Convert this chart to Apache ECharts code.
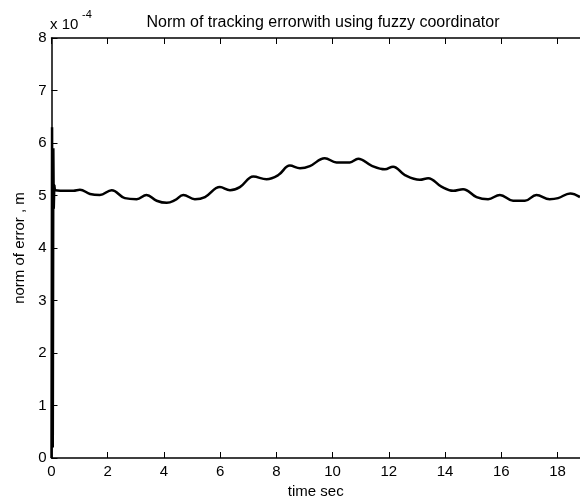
<!DOCTYPE html>
<html>
<head>
<meta charset="utf-8">
<script src="https://cdn.jsdelivr.net/npm/echarts@6/dist/echarts.min.js"></script>
<style>
  html, body { margin: 0; padding: 0; background: #fff; }
  #chart { width: 580px; height: 500px; }
</style>
</head>
<body>
<div id="chart"></div>
<script>
// values in units of 1e-4 m
var spikeTime = [0, 0.02, 0.045, 0.065, 0.08, 0.1, 0.12];
var spikeValue = [0, 6.3, 0.2, 5.9, 4.75, 5.2, 5.1];

var time = [0.12, 0.48, 0.78, 1.01, 1.37, 1.72, 2.14, 2.61, 3.03, 3.38, 3.74, 4.10, 4.39, 4.69, 5.10, 5.46,
  5.99, 6.35, 6.70, 7.18, 7.65, 8.07, 8.48, 8.84, 9.19, 9.72, 10.14, 10.61, 10.91, 11.38, 11.86, 12.15,
  12.57, 13.10, 13.40, 13.87, 14.29, 14.64, 15.12, 15.53, 15.95, 16.42, 16.84, 17.25, 17.72, 18.02,
  18.45, 18.8];
var errorNorm = [5.10, 5.09, 5.09, 5.11, 5.03, 5.01, 5.10, 4.95, 4.93, 5.01, 4.90, 4.86, 4.91, 5.01, 4.93, 4.97,
  5.16, 5.10, 5.16, 5.36, 5.31, 5.39, 5.57, 5.52, 5.56, 5.71, 5.63, 5.63, 5.70, 5.57, 5.50, 5.55,
  5.39, 5.30, 5.33, 5.17, 5.09, 5.12, 4.97, 4.93, 5.01, 4.90, 4.90, 5.01, 4.93, 4.95,
  5.04, 4.97];

var xTicks = [0, 2, 4, 6, 8, 10, 12, 14, 16, 18];

var spikeData = spikeTime.map(function (t, i) { return [t, spikeValue[i]]; });
var lineData = time.map(function (t, i) { return [t, errorNorm[i]]; });

var myChart = echarts.init(document.getElementById("chart"));
var font = "Liberation Sans, Arial, sans-serif";

function xLabel(v) {
  return xTicks.indexOf(v) >= 0 ? String(v) : "";
}

myChart.setOption({
  animation: false,
  title: {
    text: "Norm of tracking errorwith using fuzzy coordinator",
    left: 318,
    top: 10,
    textAlign: "center",
    textStyle: { fontFamily: font, fontSize: 16, fontWeight: "normal", color: "#000" }
  },
  grid: { left: 51.5, right: 0, top: 38, bottom: 42, outerBoundsMode: "none" },
  xAxis: [
    {
      type: "value",
      min: 0,
      max: 18.8,
      interval: 2,
      name: "time sec",
      nameLocation: "middle",
      nameGap: 25,
      nameTextStyle: { fontFamily: font, fontSize: 15, color: "#000" },
      axisLine: { lineStyle: { color: "#000", width: 1.5 } },
      axisTick: { inside: true, length: 6, lineStyle: { color: "#000" } },
      axisLabel: { fontFamily: font, fontSize: 15, color: "#000", margin: 6, showMaxLabel: false, formatter: xLabel },
      splitLine: { show: false }
    },
    {
      type: "value",
      position: "top",
      min: 0,
      max: 18.8,
      interval: 2,
      axisLine: { lineStyle: { color: "#000", width: 1.5 } },
      axisTick: { inside: true, length: 6, lineStyle: { color: "#000" } },
      axisLabel: { show: false },
      splitLine: { show: false }
    }
  ],
  yAxis: {
    type: "value",
    min: 0,
    max: 8,
    interval: 1,
    name: "norm of error , m",
    nameLocation: "middle",
    nameGap: 18,
    nameTextStyle: { fontFamily: font, fontSize: 15, color: "#000" },
    axisLine: { show: true, lineStyle: { color: "#000", width: 1.5 } },
    axisTick: { show: true, inside: true, length: 6, lineStyle: { color: "#000" } },
    axisLabel: { fontFamily: font, fontSize: 15, color: "#000", margin: 5 },
    splitLine: { show: false }
  },
  graphic: [
    {
      type: "text",
      left: 50,
      top: 17,
      style: { text: "x 10", font: "15px " + font, fill: "#000" }
    },
    {
      type: "text",
      left: 82,
      top: 9,
      style: { text: "-4", font: "11px " + font, fill: "#000" }
    }
  ],
  series: [
    {
      type: "line",
      data: spikeData,
      showSymbol: false,
      lineStyle: { color: "#000", width: 2.5 }
    },
    {
      type: "line",
      data: lineData,
      showSymbol: false,
      smooth: 0.4,
      lineStyle: { color: "#000", width: 2.5 }
    }
  ]
});
</script>
</body>
</html>
